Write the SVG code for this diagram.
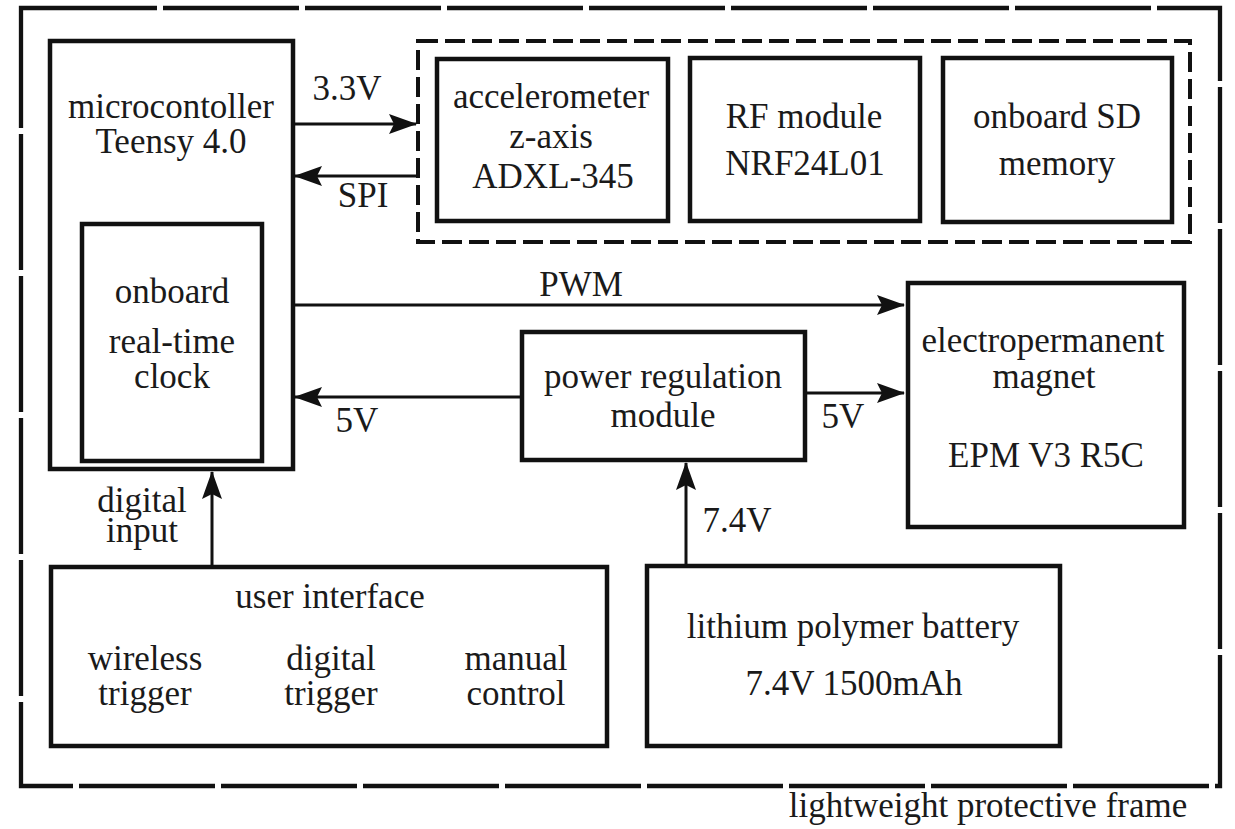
<svg xmlns="http://www.w3.org/2000/svg" width="1235" height="829" viewBox="0 0 1235 829">
  <defs>
    <style>
      .box { fill: #ffffff; stroke: #111; stroke-width: 4.5; }
      .frame { fill: none; stroke: #111; stroke-width: 4.3; stroke-dasharray: 136 6; }
      .group { fill: none; stroke: #111; stroke-width: 4; stroke-dasharray: 20 7; }
      .wire { fill: none; stroke: #111; stroke-width: 3; }
      text { font-family: "Liberation Serif", "Times New Roman", serif; font-size: 35px; fill: #1a1a1a; text-anchor: middle; }
    </style>
    <marker id="arrow" markerUnits="userSpaceOnUse" markerWidth="28" markerHeight="20" refX="27" refY="10" orient="auto">
      <path d="M0,0 L28,10 L0,20 L5,10 z" fill="#111"/>
    </marker>
  </defs>
  <rect width="1235" height="829" fill="#ffffff"/>

  <g id="frame">
    <rect class="frame" x="21" y="8" width="1199" height="778"/>
    <text x="988" y="817">lightweight protective frame</text>
  </g>

  <g id="sensor-group">
    <rect class="group" x="418" y="41" width="772" height="201"/>
  </g>

  <g id="microcontroller">
    <rect class="box" x="50" y="41" width="243" height="428"/>
    <text x="171" y="118">microcontoller</text>
    <text x="171" y="153">Teensy 4.0</text>
  </g>

  <g id="rtc">
    <rect class="box" x="82" y="224" width="180" height="237"/>
    <text x="172" y="303">onboard</text>
    <text x="172" y="353">real-time</text>
    <text x="172" y="388">clock</text>
  </g>

  <g id="accelerometer">
    <rect class="box" x="437" y="59" width="231" height="162"/>
    <text x="551" y="108">accelerometer</text>
    <text x="551" y="148">z-axis</text>
    <text x="553" y="188">ADXL-345</text>
  </g>

  <g id="rf-module">
    <rect class="box" x="690" y="58" width="230" height="163"/>
    <text x="804" y="128">RF module</text>
    <text x="805" y="175">NRF24L01</text>
  </g>

  <g id="sd-memory">
    <rect class="box" x="943" y="58" width="229" height="164"/>
    <text x="1057" y="128">onboard SD</text>
    <text x="1057" y="175">memory</text>
  </g>

  <g id="power-regulation">
    <rect class="box" x="522" y="332" width="283" height="128"/>
    <text x="663" y="388">power regulation</text>
    <text x="663" y="427">module</text>
  </g>

  <g id="epm">
    <rect class="box" x="908" y="283" width="276" height="244"/>
    <text x="1043" y="352">electropermanent</text>
    <text x="1044" y="388">magnet</text>
    <text x="1046" y="467">EPM V3 R5C</text>
  </g>

  <g id="user-interface">
    <rect class="box" x="51" y="567" width="556" height="179"/>
    <text x="330" y="608">user interface</text>
    <text x="145" y="670">wireless</text>
    <text x="145" y="705">trigger</text>
    <text x="331" y="670">digital</text>
    <text x="331" y="705">trigger</text>
    <text x="516" y="670">manual</text>
    <text x="516" y="705">control</text>
  </g>

  <g id="battery">
    <rect class="box" x="647" y="566" width="413" height="180"/>
    <text x="853" y="638">lithium polymer battery</text>
    <text x="854" y="695">7.4V 1500mAh</text>
  </g>

  <g id="connectors">
    <line class="wire" x1="295" y1="124" x2="416" y2="124" marker-end="url(#arrow)"/>
    <line class="wire" x1="416" y1="176" x2="295" y2="176" marker-end="url(#arrow)"/>
    <line class="wire" x1="295" y1="305" x2="904" y2="305" marker-end="url(#arrow)"/>
    <line class="wire" x1="520" y1="397" x2="295" y2="397" marker-end="url(#arrow)"/>
    <line class="wire" x1="807" y1="393" x2="904" y2="393" marker-end="url(#arrow)"/>
    <line class="wire" x1="686" y1="564" x2="686" y2="463" marker-end="url(#arrow)"/>
    <line class="wire" x1="212" y1="565" x2="212" y2="472" marker-end="url(#arrow)"/>
    <text x="347" y="100">3.3V</text>
    <text x="363" y="207">SPI</text>
    <text x="581" y="296">PWM</text>
    <text x="357" y="432">5V</text>
    <text x="843" y="428">5V</text>
    <text x="737" y="532">7.4V</text>
    <text x="142" y="512">digital</text>
    <text x="142" y="542">input</text>
  </g>
</svg>
